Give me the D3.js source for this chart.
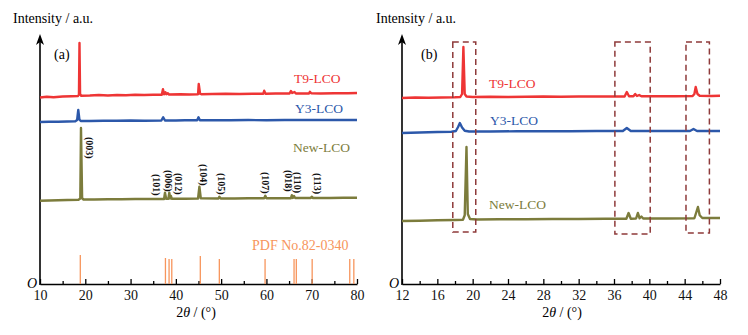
<!DOCTYPE html>
<html>
<head>
<meta charset="utf-8">
<script src="https://cdn.jsdelivr.net/npm/d3@7/dist/d3.min.js"></script>
<style>
  html, body { margin: 0; padding: 0; background: #fff; }
</style>
</head>
<body>
<svg id="chart" width="748" height="335" font-family="'Liberation Serif', 'Times New Roman', serif"></svg>
<script>
// --- data: [2theta, intensity (a.u., stacked)] ---
const t9Wide = [[10,74.6],[11.5,74.9],[13,74.7],[15,75.0],[17,75.1],[18.4,75.2],[18.6,75.8],[18.72,96.4],[18.85,76.0],[19.1,75.3],[21,75.4],[23,75.6],[25,75.4],[27,75.6],[29,75.5],[31,75.7],[33,75.6],[35,75.7],[36.9,75.7],[37.15,77.9],[37.4,75.9],[37.7,76.7],[37.9,75.9],[38.2,76.3],[38.5,75.8],[41,75.9],[43,75.8],[44.9,75.9],[45.05,80.0],[45.35,76.1],[45.6,75.9],[48,76.0],[51,76.1],[54,76.0],[57,76.1],[59.3,76.1],[59.5,77.3],[59.8,76.1],[62,76.2],[65.1,76.2],[65.4,77.2],[65.7,76.4],[66.2,76.8],[66.5,76.2],[69.4,76.2],[69.6,76.9],[69.9,76.3],[72,76.2],[75,76.3],[78,76.3],[80,76.4]];
const y3Wide = [[10,64.8],[12,64.9],[14,64.9],[16,65.0],[17.8,65.1],[18.2,65.6],[18.45,69.6],[18.7,65.8],[19.0,65.2],[21,65.2],[24,65.3],[27,65.3],[30,65.4],[33,65.3],[36.8,65.4],[37.2,66.7],[37.6,65.4],[40,65.4],[42,65.5],[44.7,65.5],[45.0,66.7],[45.3,65.5],[48,65.5],[52,65.5],[56,65.6],[60,65.5],[64,65.6],[68,65.6],[72,65.6],[76,65.6],[80,65.6]];
const newWide = [[10,33.3],[12,33.4],[14,33.5],[16,33.6],[18.5,33.7],[18.9,34.2],[19.05,62.4],[19.3,34.3],[19.6,33.8],[22,33.8],[25,33.9],[28,33.9],[31,34.0],[34,34.0],[37.4,34.0],[37.6,36.5],[37.85,34.1],[38.35,34.1],[38.55,36.5],[38.75,34.2],[38.9,35.2],[39.1,34.1],[42,34.1],[44.9,34.2],[45.2,38.9],[45.5,34.3],[49.4,34.2],[49.6,34.9],[49.9,34.2],[53,34.2],[56,34.3],[59.5,34.3],[59.75,35.3],[60.0,34.3],[63,34.3],[65.4,34.3],[65.6,35.5],[65.85,34.4],[66.1,35.2],[66.35,34.4],[69.8,34.4],[70.0,34.9],[70.3,34.4],[74,34.4],[77,34.5],[80,34.5]];

// reference pattern PDF No.82-0340
const pdfAngles  = [18.9, 37.7, 38.5, 39.1, 45.4, 49.6, 59.7, 66.1, 66.6, 70.1, 78.4, 79.3];
const pdfHeights = [11.6, 10.4, 10.0, 10.0, 11.2, 10.0, 10.0, 10.0, 10.0, 10.0, 10.0, 10.0];

// hkl labels: [text, 2theta, label top (a.u.)]
const hklLabels = [["(003)",21.0,58.8],["(101)",35.8,44.0],["(006)",38.3,45.6],["(012)",40.5,44.4],["(104)",46.0,48.0],["(105)",50.0,44.4],["(107)",59.7,44.8],["(018)",64.8,45.6],["(110)",66.8,44.8],["(113)",71.2,44.4]];

const t9Zoom = [[12,74.4],[13.5,74.6],[15,74.5],[16.5,74.6],[18,74.7],[18.6,74.8],[18.8,76.0],[18.95,94.8],[19.1,76.0],[19.3,75.0],[20,74.8],[22,74.9],[24,74.8],[26,74.9],[28,75.0],[30,74.9],[32,75.0],[34,75.0],[36,75.0],[37.2,75.0],[37.45,76.8],[37.7,75.1],[38.2,75.1],[38.4,76.0],[38.6,75.2],[38.85,75.6],[39.1,75.1],[41,75.1],[43,75.1],[44.9,75.2],[45.1,76.0],[45.25,78.8],[45.45,76.0],[45.7,75.3],[47,75.2],[48,75.3]];
const y3Zoom = [[12,60.4],[14,60.6],[16,60.8],[17.6,60.9],[18.1,61.2],[18.35,62.8],[18.55,64.4],[18.8,62.6],[19.1,61.3],[19.6,61.0],[22,61.0],[25,61.1],[28,61.1],[31,61.1],[34,61.2],[37.0,61.2],[37.45,62.4],[37.9,61.2],[40,61.2],[42,61.2],[44.6,61.2],[45.0,62.0],[45.4,61.2],[48,61.2]];
const newZoom = [[12,25.2],[14,25.3],[16,25.5],[18,25.6],[18.9,25.7],[19.1,27.5],[19.3,54.8],[19.45,28.0],[19.7,26.0],[20.5,25.8],[23,25.9],[26,25.9],[29,26.0],[32,26.0],[35,26.1],[37.4,26.1],[37.65,28.4],[37.9,26.1],[38.5,26.2],[38.7,28.4],[38.9,26.3],[39.1,27.0],[39.3,26.2],[42,26.2],[45.1,26.3],[45.3,28.5],[45.5,30.8],[45.7,27.5],[46,26.4],[48,26.4]];

// dashed highlight boxes: [x0, x1, top, bottom]
const zoomBoxes = [[17.75,20.35,96.8,20.8],[36.1,40.1,96.8,20.0],[44.15,46.8,96.8,20.4]];

const wideTicks = d3.range(10, 81, 10);
const wideMinor = d3.range(15, 80, 10);
const zoomTicks = d3.range(12, 49, 4);
const zoomMinor = d3.range(14, 48, 4);

const C = { t9: "#ee3535", y3: "#2c58aa", nw: "#7c7c3c", pdf: "#f7955c", box: "#8e3a3a" };
const FONT = "'Liberation Serif', 'Times New Roman', serif";

const svg = d3.select("#chart");

function drawPanel(o) {
  const g = svg.append("g");
  const x = d3.scaleLinear().domain(o.xDomain).range(o.xRange);
  const y = d3.scaleLinear().domain([0, 100]).range([284, 34]);
  const line = d3.line().x(d => x(d[0])).y(d => y(d[1]));

  // axes
  const ax = g.append("g").attr("transform", "translate(0,284)");
  ax.call(d3.axisBottom(x).tickValues(o.ticks).tickFormat(d3.format("d")).tickSizeInner(-5).tickSizeOuter(0).tickPadding(8));
  ax.attr("font-family", FONT).attr("font-size", 14);
  ax.select(".domain").attr("stroke-width", 1.6);
  ax.selectAll(".tick line").attr("stroke-width", 1.3);
  ax.selectAll("text").attr("fill", "#111").attr("y", 16).attr("dy", null);
  const mx = g.append("g").attr("transform", "translate(0,284)");
  mx.call(d3.axisBottom(x).tickValues(o.minor).tickFormat("").tickSizeInner(-3).tickSizeOuter(0));
  mx.select(".domain").remove();
  mx.selectAll(".tick line").attr("stroke-width", 1.3);

  const x0 = o.xRange[0];
  g.append("line").attr("x1", x0).attr("x2", x0).attr("y1", 285).attr("y2", 40)
    .attr("stroke", "#000").attr("stroke-width", 1.6);
  g.append("path").attr("d", `M${x0},34 L${x0-4},45 L${x0},42 L${x0+4},45 Z`).attr("fill", "#000");

  g.append("text").attr("x", x0 - 13).attr("y", 288).attr("font-size", 14)
    .attr("font-style", "italic").text("O");
  g.append("text").attr("x", o.yTitleX).attr("y", 23).attr("font-size", 14).text("Intensity / a.u.");
  const xt = g.append("text").attr("x", o.xTitleX).attr("y", 317).attr("font-size", 14).attr("text-anchor", "middle");
  xt.append("tspan").text("2");
  xt.append("tspan").attr("font-style", "italic").text("θ");
  xt.append("tspan").text(" / (°)");
  g.append("text").attr("x", x0 + o.tagDx).attr("y", 59).attr("font-size", 14).text(o.tag);

  // series
  o.series.forEach(s => {
    g.append("path").datum(s.data).attr("fill", "none").attr("stroke", s.color)
      .attr("stroke-width", 2.4).attr("stroke-linejoin", "round").attr("d", line);
    g.append("text").attr("x", s.lx).attr("y", s.ly).attr("font-size", 13.5)
      .attr("fill", s.color).text(s.name);
  });
  return { g, x, y };
}

const left = drawPanel({
  xDomain: [10, 80], xRange: [40, 357], ticks: wideTicks, minor: wideMinor,
  yTitleX: 13, xTitleX: 196, tag: "(a)", tagDx: 14,
  series: [
    { data: t9Wide, color: C.t9, name: "T9-LCO", lx: 294, ly: 83 },
    { data: y3Wide, color: C.y3, name: "Y3-LCO", lx: 295, ly: 113 },
    { data: newWide, color: C.nw, name: "New-LCO", lx: 293, ly: 152 }
  ]
});

// PDF stick pattern
left.g.selectAll(".pdf").data(pdfAngles).join("line")
  .attr("x1", d => left.x(d)).attr("x2", d => left.x(d))
  .attr("y1", left.y(0)).attr("y2", (d, i) => left.y(pdfHeights[i]))
  .attr("stroke", C.pdf).attr("stroke-width", 1.3);
left.g.append("text").attr("x", 252).attr("y", 250).attr("font-size", 14)
  .attr("fill", C.pdf).text("PDF No.82-0340");

// hkl labels (rotated, read top to bottom)
left.g.selectAll(".hkl").data(hklLabels).join("text")
  .attr("transform", d => `translate(${left.x(d[1]) - 3.5},${left.y(d[2])}) rotate(90)`)
  .attr("font-size", 10).attr("font-weight", "bold").attr("fill", "#111")
  .text(d => d[0]);

const right = drawPanel({
  xDomain: [12, 48], xRange: [402, 720], ticks: zoomTicks, minor: zoomMinor,
  yTitleX: 376, xTitleX: 562, tag: "(b)", tagDx: 19,
  series: [
    { data: t9Zoom, color: C.t9, name: "T9-LCO", lx: 489, ly: 88 },
    { data: y3Zoom, color: C.y3, name: "Y3-LCO", lx: 490, ly: 125 },
    { data: newZoom, color: C.nw, name: "New-LCO", lx: 489, ly: 209 }
  ]
});

right.g.selectAll(".box").data(zoomBoxes).join("rect")
  .attr("x", d => right.x(d[0])).attr("y", d => right.y(d[2]))
  .attr("width", d => right.x(d[1]) - right.x(d[0]))
  .attr("height", d => right.y(d[3]) - right.y(d[2]))
  .attr("fill", "none").attr("stroke", C.box).attr("stroke-width", 1.5)
  .attr("stroke-dasharray", "6 4");
</script>
</body>
</html>
